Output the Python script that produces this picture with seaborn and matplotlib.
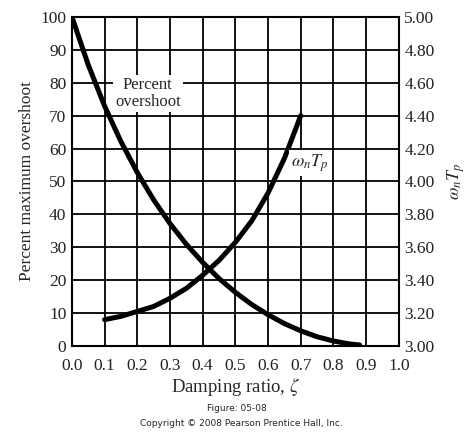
import matplotlib.pyplot as plt
import seaborn as sns
import pandas as pd
import numpy as np

sns.set_theme(style="white")
plt.rcParams['font.family'] = ['Liberation Serif', 'DejaVu Serif']
plt.rcParams['mathtext.fontset'] = 'stix'

# values
zeta_os = [0.00, 0.05, 0.10, 0.15, 0.20, 0.25, 0.30, 0.35, 0.40, 0.45,
           0.50, 0.55, 0.60, 0.65, 0.70, 0.75, 0.80, 0.85, 0.88]
percent_os = [100.0, 85.4, 72.9, 62.1, 52.7, 44.4, 37.2, 30.9, 25.4, 20.5,
              16.3, 12.6, 9.5, 6.8, 4.6, 2.8, 1.5, 0.6, 0.3]
zeta_tp = [0.10, 0.15, 0.20, 0.25, 0.30, 0.35, 0.40, 0.45, 0.50, 0.55, 0.60, 0.65, 0.70]
wn_tp = [3.16, 3.18, 3.21, 3.24, 3.29, 3.35, 3.43, 3.52, 3.63, 3.76, 3.93, 4.14, 4.40]

x_ticks = [0.0, 0.1, 0.2, 0.3, 0.4, 0.5, 0.6, 0.7, 0.8, 0.9, 1.0]
left_ticks = [0, 10, 20, 30, 40, 50, 60, 70, 80, 90, 100]
right_ticks = [3.00, 3.20, 3.40, 3.60, 3.80, 4.00, 4.20, 4.40, 4.60, 4.80, 5.00]

df_os = pd.DataFrame({'zeta': zeta_os, 'os': percent_os})
df_tp = pd.DataFrame({'zeta': zeta_tp, 'tp': wn_tp})

fig = plt.figure(figsize=(4.67, 4.33), dpi=100)
ax = fig.add_axes([0.154, 0.201, 0.700, 0.760])

sns.lineplot(data=df_os, x='zeta', y='os', ax=ax, color='black', lw=3.6, zorder=4)
ax.set_xlim(0, 1.0)
ax.set_ylim(0, 100)
ax.set_xticks(x_ticks)
ax.set_xticklabels([f"{v:.1f}" for v in x_ticks])
ax.set_yticks(left_ticks)
ax.grid(True, color='black', lw=1.3)
for s in ax.spines.values():
    s.set_color('black')
    s.set_linewidth(1.5)
ax.tick_params(axis='y', labelsize=12.5, length=0, pad=4, colors='#222222')
ax.tick_params(axis='x', labelsize=12.5, length=0, pad=9, colors='#222222')
ax.set_xlabel('Damping ratio, $\\zeta$', fontsize=13.5, labelpad=1)
ax.set_ylabel('Percent maximum overshoot', fontsize=12.5, labelpad=4)

ax2 = ax.twinx()
sns.lineplot(data=df_tp, x='zeta', y='tp', ax=ax2, color='black', lw=3.6, zorder=4)
ax2.set_ylim(3.0, 5.0)
ax2.set_yticks(right_ticks)
ax2.set_yticklabels([f"{v:.2f}" for v in right_ticks])
ax2.tick_params(axis='y', labelsize=12.5, length=0, pad=4, colors='#222222')
ax2.set_ylabel('$\\omega_n T_p$', fontsize=13, labelpad=8)
for s in ax2.spines.values():
    s.set_visible(False)

bbox = dict(facecolor='white', edgecolor='none', pad=1.5)
ax.text(0.232, 76.8, 'Percent\novershoot', fontsize=12, ha='center', va='center',
        linespacing=1.1, bbox=bbox, zorder=5)
ax2.text(0.728, 4.11, '$\\omega_n T_p$', fontsize=13, ha='center', va='center',
         bbox=bbox, zorder=5)

fig.text(0.507, 0.057, 'Figure: 05-08', fontsize=6.5, family='DejaVu Sans',
         ha='center', va='center')
fig.text(0.516, 0.021, 'Copyright \u00a9 2008 Pearson Prentice Hall, Inc.', fontsize=6.5,
         family='DejaVu Sans', ha='center', va='center')

fig.savefig('out.png', dpi=100)
plt.close()
